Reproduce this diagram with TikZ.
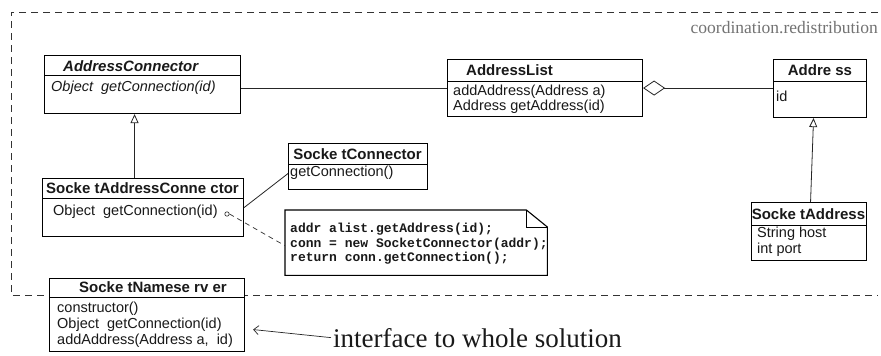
\documentclass[tikz,border=0pt]{standalone}
\usepackage{fontspec}
\setmainfont{Liberation Serif}
\setsansfont{Liberation Sans}
\setmonofont{Liberation Mono}
\usetikzlibrary{arrows.meta,calc}

\begin{document}
\begin{tikzpicture}[x=1pt,y=-1pt,
  classbox/.style={draw=black, line width=1.1pt, inner sep=0pt, anchor=north west},
  divider/.style={draw=black, line width=0.8pt},
  hdr/.style={font=\sffamily\bfseries\fontsize{15}{15}\selectfont, inner sep=0pt, text=black!90},
  hdrit/.style={font=\sffamily\bfseries\itshape\fontsize{15}{15}\selectfont, inner sep=0pt, text=black!90},
  member/.style={font=\sffamily\fontsize{14.5}{14.5}\selectfont, inner sep=0pt, anchor=west, text=black!90},
  memberit/.style={member, font=\sffamily\itshape\fontsize{14.5}{14.5}\selectfont},
  assoc/.style={draw=black!85, line width=0.8pt},
  inherit/.style={assoc, -{Triangle[open, length=9pt, width=8pt]}},
  aggr/.style={assoc, {Diamond[open, length=22pt, width=15pt]}-},
  notelink/.style={draw=black!80, line width=0.7pt, dash pattern=on 5pt off 4pt},
  frame/.style={draw=black!80, line width=0.8pt, dash pattern=on 7pt off 5pt},
  codetext/.style={font=\ttfamily\bfseries\fontsize{13}{14.5}\selectfont, inner sep=0pt, align=left, text=black!90}
]
\useasboundingbox (0,0) rectangle (881,356);
\fill[white] (0,0) rectangle (881,356);

% package boundary
\draw[frame] (878,12) -- (11,12) -- (11,295) -- (878,295);
\node[font=\fontsize{17.5}{17.5}\selectfont, text=black!55, inner sep=0pt, anchor=base east]
  (pkg) at (878,34) {coordination.redistribution};

% AddressConnector (abstract)
\node[classbox, minimum width=196pt, minimum height=58pt] (AC) at (44,55) {};
\draw[divider] (AC.north west |- 0,75) -- (AC.north east |- 0,75);
\node[hdrit, anchor=west] (ACh) at (63,66) {AddressConnector};
\node[memberit] (ACm) at (51,88) {Object\ \ getConnection(id)};

% AddressList
\node[classbox, minimum width=195pt, minimum height=57pt] (AL) at (447,59) {};
\draw[divider] (AL.north west |- 0,81) -- (AL.north east |- 0,81);
\node[hdr, anchor=west] (ALh) at (466,70) {AddressList};
\node[member] (ALm1) at (453,92) {addAddress(Address a)};
\node[member] (ALm2) at (453,107) {Address getAddress(id)};

% Address
\node[classbox, minimum width=93pt, minimum height=58pt] (AD) at (773,59) {};
\draw[divider] (AD.north west |- 0,81) -- (AD.north east |- 0,81);
\node[hdr] (ADh) at (820,70) {Addre ss};
\node[member] (ADm) at (776,96) {id};

% SocketAddress
\node[classbox, minimum width=115pt, minimum height=58pt] (SA) at (751,202) {};
\draw[divider] (SA.north west |- 0,225) -- (SA.north east |- 0,225);
\node[hdr] (SAh) at (808.5,214) {Socke tAddress};
\node[member] (SAm1) at (757,234) {String host};
\node[member] (SAm2) at (757,250) {int port};

% SocketAddressConnector
\node[classbox, minimum width=201pt, minimum height=58pt] (SAC) at (42,178) {};
\draw[divider] (SAC.north west |- 0,198) -- (SAC.north east |- 0,198);
\node[hdr] (SACh) at (142.5,188) {Socke tAddressConne ctor};
\node[member] (SACm) at (53,212) {Object\ \ getConnection(id)};
\node[draw=black!85, line width=0.6pt, circle, minimum size=4.4pt, inner sep=0pt] (dot) at (227,214) {};

% SocketConnector
\node[classbox, minimum width=139pt, minimum height=46pt] (SC) at (288,143) {};
\draw[divider] (SC.north west |- 0,164) -- (SC.north east |- 0,164);
\node[hdr] (SCh) at (357.5,154) {Socke tConnector};
\node[member] (SCm) at (290,173) {getConnection()};

% implementation note
\node[anchor=north west, minimum width=262pt, minimum height=65pt, inner sep=0pt] (note) at (285,210) {};
\draw[draw=black, line width=1.1pt, fill=white]
  (note.north west) -- ([xshift=-21pt]note.north east) -- ([yshift=-17pt]note.north east)
  -- (note.south east) -- (note.south west) -- cycle;
\draw[draw=black, line width=0.8pt]
  ([xshift=-21pt]note.north east) -- ([xshift=-21pt,yshift=-17pt]note.north east)
  -- ([yshift=-17pt]note.north east);
\node[codetext, anchor=north west] (code) at (290,223)
  {addr alist.getAddress(id);\\conn = new SocketConnector(addr);\\return conn.getConnection();};

% SocketNameserver (outside the package)
\node[classbox, minimum width=195pt, minimum height=73pt, fill=white] (SN) at (49,278) {};
\draw[divider] (SN.north west |- 0,297) -- (SN.north east |- 0,297);
\node[hdr] (SNh) at (153,287) {Socke tNamese rv er};
\node[member] (SNm1) at (57,309) {constructor()};
\node[member] (SNm2) at (57,325) {Object\ \ getConnection(id)};
\node[member] (SNm3) at (57,341) {addAddress(Address a,\ \ id)};

\node[font=\fontsize{27}{27}\selectfont, inner sep=0pt, anchor=base west, text=black!90]
  (iface) at (333,347) {interface to whole solution};

% relations
\draw[assoc] (AC.east |- AL.west) -- (AL.west);
\draw[aggr] (AL.east) -- (AD.west |- AL.east);
\draw[inherit] ([xshift=-8.5pt]SAC.north) -- ([xshift=-8.5pt]SAC.north |- AC.south);
\draw[inherit] ([xshift=1.5pt]SA.north) -- ([xshift=-6.5pt]AD.south);
\draw[assoc] (SAC.east) -- ([yshift=-7pt]SC.west);
\draw[notelink] (dot.east) -- ([yshift=-3pt]note.west);
\draw[assoc, line width=0.7pt, -{Straight Barb[length=5pt, width=9pt]}]
  ([xshift=-2pt]iface.west) -- ([xshift=8pt,yshift=-14.5pt]SN.east);
\end{tikzpicture}
\end{document}
